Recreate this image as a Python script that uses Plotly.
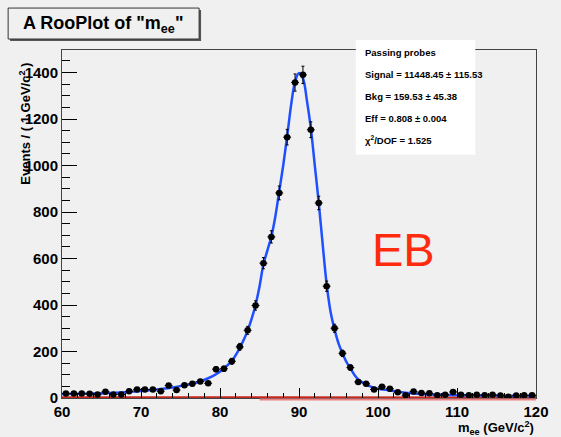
import numpy as np
import plotly.graph_objects as go

# binned m_ee data (1 GeV bins, 60-120)
bin_centers = [60.5 + i for i in range(60)]
counts = [19, 19, 19, 18, 15, 27, 15, 15, 29, 37,
          37, 37, 29, 54, 34, 55, 61, 71, 63, 124,
          126, 158, 220, 291, 398, 580, 693, 882, 1122, 1357,
          1390, 1154, 839, 481, 300, 192, 131, 69, 61, 37,
          48, 40, 25, 12, 28, 22, 20, 12, 14, 26,
          14, 12, 14, 12, 14, 11, 5, 11, 12, 12]

# fitted curve
fit_x = [60, 62, 64, 66, 68, 70, 72, 74, 75.5, 76.5, 77.5, 78.5, 79.5, 80.5,
         81.5, 82.5, 83, 83.5, 84, 84.5, 85, 85.5, 86, 86.5, 87, 87.5, 88,
         88.5, 89, 89.5, 90, 90.5, 91, 91.5, 92, 92.5, 93, 93.5, 94, 94.5,
         95, 95.5, 96, 96.5, 97, 97.5, 98, 98.5, 99, 100, 101, 102, 103, 104,
         105, 106, 108, 110, 112, 116, 120]
fit_y = [17, 18, 19, 21, 25, 30, 37, 45, 55, 62, 72, 85, 102, 127,
         160, 215, 250, 290, 340, 400, 480, 575, 635, 695, 780, 890, 1000,
         1125, 1260, 1360, 1398, 1375, 1280, 1160, 1000, 840, 660, 490, 370, 295,
         235, 192, 155, 128, 100, 80, 68, 58, 50, 40, 35, 30, 25, 21,
         18, 16, 14, 12, 11, 10, 9]

# background component
bkg_x = [60, 120]
bkg_y = [3.2, 2.2]

stat_lines = ["Passing probes",
              "Signal = 11448.45 \u00b1 115.53",
              "Bkg = 159.53 \u00b1 45.38",
              "Eff = 0.808 \u00b1 0.004",
              "\u03c7<sup>2</sup>/DOF = 1.525"]

FONT = "Liberation Sans, Arial, sans-serif"
BG = "#f0f0f0"

fig = go.Figure()
fig.add_trace(go.Scatter(x=bkg_x, y=bkg_y, mode="lines",
                         line=dict(color="#c4281c", width=2), hoverinfo="skip"))
fig.add_trace(go.Scatter(x=fit_x, y=fit_y, mode="lines",
                         line=dict(color="#1f4fff", width=2.5, shape="spline"),
                         hoverinfo="skip"))
fig.add_trace(go.Scatter(
    x=bin_centers, y=counts, mode="markers",
    marker=dict(color="black", size=6.5),
    error_y=dict(type="data", array=np.sqrt(counts), color="black", thickness=1, width=1.5),
    error_x=dict(type="constant", value=0.5, color="black", thickness=1, width=0),
))

fig.update_layout(
    width=561, height=437,
    margin=dict(l=62, r=15, t=50, b=39),
    paper_bgcolor=BG, plot_bgcolor=BG,
    showlegend=False,
    font=dict(family=FONT, color="black"),
)
fig.update_xaxes(
    range=[60, 120], dtick=10, tick0=60, ticks="inside", ticklen=10, tickwidth=1,
    tickcolor="black", showgrid=False, zeroline=False,
    showline=True, linecolor="#444", linewidth=1, mirror=True,
    tickfont=dict(size=15, weight="bold"),
    minor=dict(dtick=2, ticks="inside", ticklen=5, tickcolor="black", showgrid=False),
)
fig.update_yaxes(
    range=[0, 1497], dtick=200, ticks="inside", ticklen=15, tickwidth=1,
    tickcolor="black", showgrid=False, zeroline=False,
    showline=True, linecolor="#444", linewidth=1, mirror=True,
    tickfont=dict(size=15, weight="bold"),
    minor=dict(dtick=50, ticks="inside", ticklen=8, tickcolor="black", showgrid=False),
)

W, H = 484.0, 348.5


def px(xp):
    return (xp - 62) / W


def py(yp):
    return (398.5 - yp) / H


# pink strip under the axis
fig.add_shape(type="line", xref="x", yref="paper", x0=85, x1=120,
              y0=-1.5 / H, y1=-1.5 / H, line=dict(color="#f08080", width=2))

# title box with shadow
fig.add_shape(type="rect", xref="paper", yref="paper",
              x0=px(9), x1=px(204), y0=py(41), y1=py(10),
              fillcolor="#555", line=dict(width=0), layer="above")
fig.add_shape(type="rect", xref="paper", yref="paper",
              x0=px(7), x1=px(202), y0=py(39), y1=py(8),
              fillcolor=BG, line=dict(color="#333", width=1), layer="above")
fig.add_annotation(xref="paper", yref="paper", x=px(104), y=py(24),
                   text="<b>A RooPlot of \"m<sub>ee</sub>\"</b>", showarrow=False,
                   font=dict(size=18, family=FONT), xanchor="center", yanchor="middle")

# stats box
fig.add_shape(type="rect", xref="paper", yref="paper",
              x0=px(362), x1=px(484), y0=py(155), y1=py(40),
              fillcolor="white", line=dict(width=0), layer="above")
for i, t in enumerate(stat_lines):
    fig.add_annotation(xref="paper", yref="paper", x=px(369), y=py(53 + 21.8 * i),
                       text="<b>" + t + "</b>", showarrow=False,
                       font=dict(size=9.5, family=FONT),
                       xanchor="left", yanchor="middle")

# axis titles
fig.add_annotation(xref="paper", yref="paper", x=1.0, y=py(429),
                   text="<b>m<sub>ee</sub> (GeV/c<sup>2</sup>)</b>", showarrow=False,
                   font=dict(size=13, family=FONT), xanchor="right", yanchor="middle")
fig.add_annotation(xref="paper", yref="paper", x=px(24), y=py(124),
                   text="<b>Events / ( 1 GeV/c<sup>2</sup> )</b>", showarrow=False,
                   textangle=-90, font=dict(size=13, family=FONT),
                   xanchor="center", yanchor="middle")

fig.add_annotation(xref="paper", yref="paper", x=px(376), y=py(250),
                   text="EB", showarrow=False,
                   font=dict(size=47, family=FONT, color="#ff2b0f"),
                   xanchor="left", yanchor="middle")

fig.write_html("out.html", config={"displayModeBar": False},
               post_script="document.body.style.margin='0';")
